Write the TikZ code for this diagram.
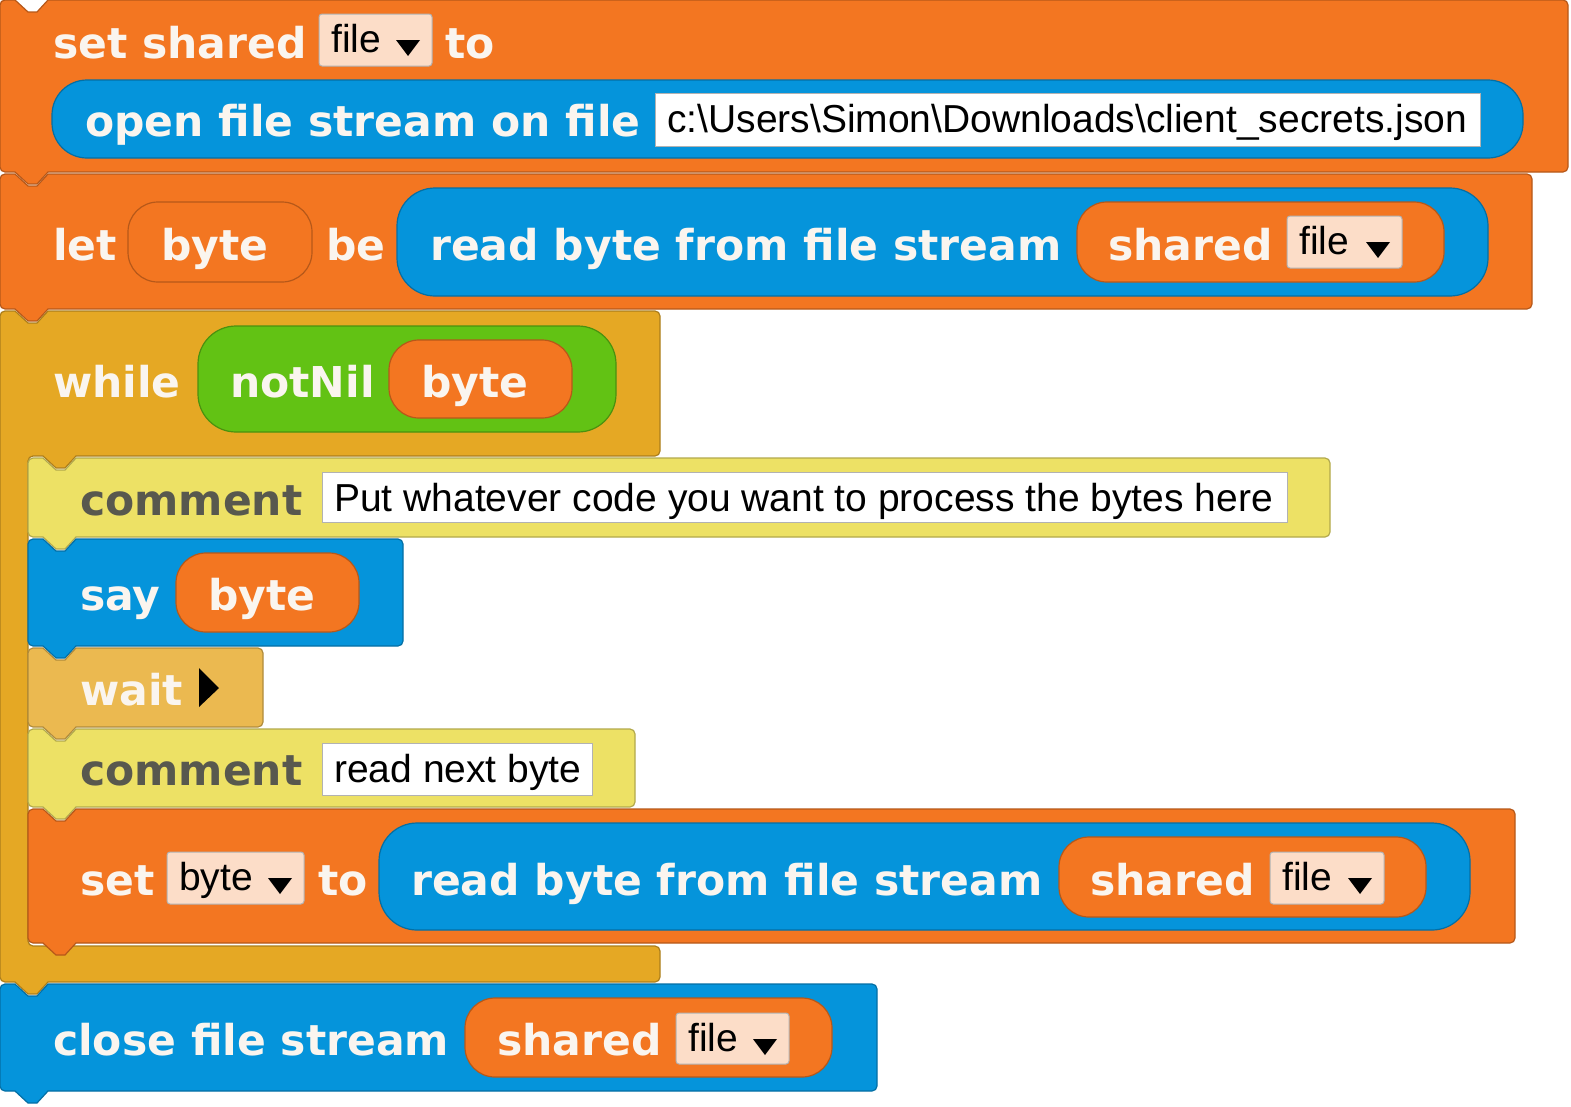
\documentclass[tikz,border=0pt]{standalone}
\usepackage{fontspec}
\usepackage{xcolor}
\usepackage{tikz}
\newfontfamily\blockfont{DejaVu Sans}
\newfontfamily\fieldfont{Liberation Sans}
\definecolor{varorange}{RGB}{243,118,33}
\definecolor{streamblue}{RGB}{5,148,219}
\definecolor{controlgold}{RGB}{229,168,36}
\definecolor{opgreen}{RGB}{98,194,20}
\definecolor{commentyellow}{RGB}{237,225,101}
\definecolor{waitgold}{RGB}{235,185,80}
\definecolor{menupeach}{RGB}{252,221,200}
\definecolor{labelwhite}{RGB}{250,245,239}
\definecolor{commentgray}{RGB}{88,88,78}
\newcommand*{\blocklabelstyle}{\blockfont\bfseries\fontsize{42.5pt}{50pt}\selectfont}
\newcommand*{\fieldtextstyle}{\fieldfont\fontsize{39pt}{46pt}\selectfont}
\tikzset{
  blocklabel/.style = {font = \blocklabelstyle, text = labelwhite,
    inner sep = 0pt, anchor = base west},
  commentlabel/.style = {blocklabel, text = commentgray},
  fieldtext/.style = {font = \fieldtextstyle, text = black,
    inner sep = 0pt, anchor = base west}
}
\newcommand{\cmdblock}[5]{%
% left, top, right, bottom, colour
  \pgfmathsetmacro{\blkL}{#1}
  \pgfmathsetmacro{\blkT}{#2}
  \pgfmathsetmacro{\blkR}{#3}
  \pgfmathsetmacro{\blkB}{#4}
  \filldraw[fill = #5, draw = #5!75!black, line width = 1.2pt, rounded corners = 5pt]
    (\blkL,\blkT) [sharp corners] -- (\blkL+15,\blkT) -- (\blkL+28,\blkT+12)
    -- (\blkL+37,\blkT+12) -- (\blkL+48,\blkT) [rounded corners = 5pt] -- (\blkR,\blkT)
    -- (\blkR,\blkB) [sharp corners] -- (\blkL+48,\blkB) -- (\blkL+37,\blkB+12)
    -- (\blkL+28,\blkB+12) -- (\blkL+15,\blkB) [rounded corners = 5pt] -- (\blkL,\blkB)
    -- cycle;
}
\newcommand{\cblock}[7]{%
% left, top, right, bottom of arm, top of foot, bottom, colour
  \pgfmathsetmacro{\blkL}{#1}
  \pgfmathsetmacro{\blkT}{#2}
  \pgfmathsetmacro{\blkR}{#3}
  \pgfmathsetmacro{\blkA}{#4}
  \pgfmathsetmacro{\blkF}{#5}
  \pgfmathsetmacro{\blkB}{#6}
  \pgfmathsetmacro{\blkI}{#1+28}
  \filldraw[fill = #7, draw = #7!75!black, line width = 1.2pt, rounded corners = 5pt]
    (\blkL,\blkT) [sharp corners] -- (\blkL+15,\blkT) -- (\blkL+28,\blkT+12)
    -- (\blkL+37,\blkT+12) -- (\blkL+48,\blkT) [rounded corners = 5pt] -- (\blkR,\blkT)
    -- (\blkR,\blkA) [sharp corners] -- (\blkI+48,\blkA) -- (\blkI+37,\blkA+12)
    -- (\blkI+28,\blkA+12) -- (\blkI+15,\blkA) [rounded corners = 5pt] -- (\blkI,\blkA)
    -- (\blkI,\blkF) -- (\blkR,\blkF) -- (\blkR,\blkB) [sharp corners]
    -- (\blkL+48,\blkB) -- (\blkL+37,\blkB+12) -- (\blkL+28,\blkB+12)
    -- (\blkL+15,\blkB) [rounded corners = 5pt] -- (\blkL,\blkB) -- cycle;
}
\newcommand{\reporter}[6]{%
% left, top, right, bottom, corner radius, colour
  \filldraw[fill = #6, draw = #6!75!black, line width = 1.2pt,
    rounded corners = #5pt] (#1,#2) rectangle (#3,#4);
}
\newcommand{\dropdown}[6]{%
% left, top, right, bottom, text, name
  \filldraw[fill = menupeach, draw = black!30, line width = 1pt,
    rounded corners = 3pt] (#1,#2) rectangle (#3,#4);
  \node[fieldtext] (#6) at (#1+12,#2+38.5) {#5};
  \fill[black] (#3-36,#2+26) -- (#3-12,#2+26) -- (#3-24,#2+42) -- cycle;
}
\newcommand{\textfield}[6]{%
% left, top, right, bottom, text, name
  \filldraw[fill = white, draw = black!30, line width = 1pt]
    (#1,#2) rectangle (#3,#4);
  \node[fieldtext] (#6) at (#1+12,#2+39.5) {#5};
}

\begin{document}
\begin{tikzpicture}[x = 1pt, y = -1pt]
  \useasboundingbox (0,0) rectangle (1571,1106);
  % set shared file to
  \cmdblock{0}{0}{1568}{172}{varorange}
  \node[blocklabel] (setshared) at (53,58) {set shared};
  \dropdown{319}{14}{432}{66}{file}{sharedmenu}
  \node[blocklabel] (setto) at (445,58) {to};
  \reporter{52}{80}{1523}{158}{35}{streamblue}
  \node[blocklabel] (openstream) at (85,136) {open file stream on file};
  \textfield{655}{93}{1480}{146}{c:\textbackslash Users\textbackslash Simon\textbackslash Downloads\textbackslash client\_secrets.json}{filepath}
  % let byte be
  \cmdblock{0}{174}{1532}{309}{varorange}
  \node[blocklabel] (letlabel) at (53,260) {let};
  \reporter{128}{202}{312}{282}{30}{varorange}
  \node[blocklabel] (letbyte) at (161,260) {byte};
  \node[blocklabel] (belabel) at (326,260) {be};
  \reporter{397}{188}{1488}{296}{38}{streamblue}
  \node[blocklabel] (readfirst) at (430,260) {read byte from file stream};
  \reporter{1077}{202}{1444}{282}{30}{varorange}
  \node[blocklabel] (sharedfirst) at (1108,260) {shared};
  \dropdown{1287}{216}{1402}{268}{file}{firstmenu}
  % while loop
  \cblock{0}{311}{660}{456}{946}{982}{controlgold}
  \node[blocklabel] (whilelabel) at (53,397) {while};
  \reporter{198}{326}{616}{432}{38}{opgreen}
  \node[blocklabel] (notnil) at (230,397) {notNil};
  \reporter{389}{340}{572}{418}{30}{varorange}
  \node[blocklabel] (whilebyte) at (421,397) {byte};
  % loop body
  \cmdblock{28}{458}{1330}{537}{commentyellow}
  \node[commentlabel] (commentone) at (80,515) {comment};
  \textfield{322}{472}{1287}{522}{Put whatever code you want to process the bytes here}{commenttext}
  \cmdblock{28}{539}{403}{646}{streamblue}
  \node[blocklabel] (saylabel) at (80,610) {say};
  \reporter{176}{553}{359}{632}{30}{varorange}
  \node[blocklabel] (saybyte) at (208,610) {byte};
  \cmdblock{28}{648}{263}{727}{waitgold}
  \node[blocklabel] (waitlabel) at (80,705) {wait};
  \fill[black] (199,668) -- (219,688) -- (199,707) -- cycle;
  \cmdblock{28}{729}{635}{807}{commentyellow}
  \node[commentlabel] (commenttwo) at (80,785) {comment};
  \textfield{322}{743}{592}{795}{read next byte}{nexttext}
  \cmdblock{28}{809}{1515}{943}{varorange}
  \node[blocklabel] (setlabel) at (80,895) {set};
  \dropdown{167}{852}{304}{904}{byte}{bytemenu}
  \node[blocklabel] (setbyteto) at (318,895) {to};
  \reporter{379}{823}{1470}{930}{38}{streamblue}
  \node[blocklabel] (readnext) at (411,895) {read byte from file stream};
  \reporter{1059}{837}{1426}{917}{30}{varorange}
  \node[blocklabel] (sharednext) at (1090,895) {shared};
  \dropdown{1270}{852}{1384}{904}{file}{nextmenu}
  % close file stream
  \cmdblock{0}{984}{877}{1091}{streamblue}
  \node[blocklabel] (closestream) at (53,1055) {close file stream};
  \reporter{465}{998}{832}{1077}{30}{varorange}
  \node[blocklabel] (sharedclose) at (497,1055) {shared};
  \dropdown{676}{1013}{789}{1064}{file}{closemenu}
\end{tikzpicture}
\end{document}
